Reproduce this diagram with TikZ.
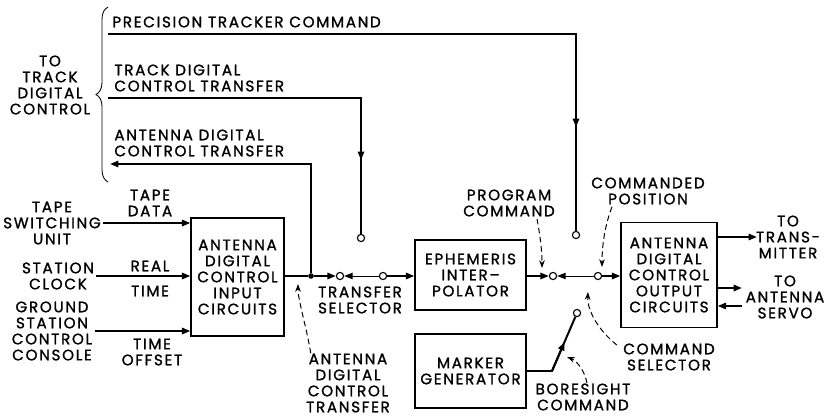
\documentclass[tikz,border=0pt]{standalone}
\usepackage{fontspec}
\setmainfont{Poppins}[LetterSpace=11, FakeBold=1.2]
\usetikzlibrary{arrows.meta, calc, decorations.pathreplacing}

\tikzset{
  txt/.style={align=center, inner sep=1.5pt, font=\fontsize{10.8}{11.4}\selectfont},
  blk/.style={txt, draw, line width=0.9pt},
  sig/.style={line width=1.4pt},
  arr/.style={sig, -{Triangle[length=6pt,width=4.5pt]}},
  blade/.style={line width=0.7pt, -{Triangle[length=6pt,width=4.5pt]}},
  ptr/.style={line width=0.7pt, dash pattern=on 4pt off 2.5pt, -{Stealth[length=5.5pt,width=4pt]}},
  contact/.style={circle, draw, line width=0.8pt, inner sep=0pt, minimum size=0.18cm},
  dot/.style={circle, fill, inner sep=0pt, minimum size=0.14cm}
}

\begin{document}
\begin{tikzpicture}[x=0.025cm, y=-0.025cm]
\useasboundingbox (0,0) rectangle (832,416);

\node[txt] (ttdc) at (50,85) {TO\\TRACK\\DIGITAL\\CONTROL};
\node[txt, anchor=west] (ptcl) at (110,22) {PRECISION TRACKER COMMAND};
\node[txt, anchor=west, align=left] (tdctl) at (112,78) {TRACK DIGITAL\\CONTROL TRANSFER};
\node[txt, anchor=west, align=left] (adctl) at (112,143) {ANTENNA DIGITAL\\CONTROL TRANSFER};
\draw[line width=0.6pt, decorate, decoration={brace, amplitude=0.3cm}] (108,182) -- (108,7);

\node[txt] (tsu) at (52,223) {TAPE\\SWITCHING\\UNIT};
\node[txt] (sc) at (58,276) {STATION\\CLOCK};
\node[txt] (gscc) at (52,331) {GROUND\\STATION\\CONTROL\\CONSOLE};
\node[txt] (tdl) at (150,203) {TAPE\\DATA};
\node[txt] (rl) at (150,266) {REAL};
\node[txt] (tl) at (150,291) {TIME};
\node[txt] (tol) at (152,352) {TIME\\OFFSET};

\node[blk, minimum width=2.325cm, minimum height=2.95cm] (input) at (237.5,277) {ANTENNA\\DIGITAL\\CONTROL\\INPUT\\CIRCUITS};
\node[blk, minimum width=2.775cm, minimum height=1.75cm] (eph) at (470.5,275) {EPHEMERIS\\INTER--\\POLATOR};
\node[blk, minimum width=2.775cm, minimum height=1.85cm] (mk) at (470.5,371) {MARKER\\GENERATOR};
\node[blk, minimum width=2.4cm, minimum height=2.625cm] (out) at (669,275) {ANTENNA\\DIGITAL\\CONTROL\\OUTPUT\\CIRCUITS};

\node[txt] (tsl) at (360,300) {TRANSFER\\SELECTOR};
\node[txt] (adct) at (348,383) {ANTENNA\\DIGITAL\\CONTROL\\TRANSFER};
\node[txt] (pcl) at (509,203) {PROGRAM\\COMMAND};
\node[txt] (cpl) at (648,191) {COMMANDED\\POSITION};
\node[txt] (csl) at (669,357) {COMMAND\\SELECTOR};
\node[txt] (bsl) at (583,397) {BORESIGHT\\COMMAND};
\node[txt] (txl) at (788,237) {TO\\TRANS-\\MITTER};
\node[txt] (svl) at (785,297) {TO\\ANTENNA\\SERVO};

\node[dot] (jn) at (311,276) {};
\node[contact] (c1) at (340,276) {};
\node[contact] (c2) at (383,276) {};
\node[contact] (c3) at (361,238) {};
\node[contact] (c4) at (553,276) {};
\node[contact] (c5) at (598,276) {};
\node[contact] (c6) at (576,235) {};
\node[contact] (c7) at (577,313) {};

\coordinate (ptcs) at (108,34);
\coordinate (tdcs) at (108,98);
\coordinate (adce) at (110,164);
\coordinate (bend) at (552,371);
\coordinate (tx) at (757,237);
\coordinate (sv1) at (742,288);
\coordinate (sv2) at (742,306);
\coordinate (adctp) at (298,284);
\coordinate (pcp) at (542,268);
\coordinate (cpp) at (602,267);
\coordinate (csp) at (588,292);
\coordinate (bsp) at (567,357);

\draw[arr] (tsu.east) -- (tsu.east -| input.west);
\draw[arr] (sc.east |- jn) -- (input.west |- jn);
\draw[arr] (gscc.east) -- (gscc.east -| input.west);

\draw[sig] (ptcs) -| (c6);
\draw[arr] (ptcs -| c6) -- ++(0,93);
\draw[sig] (tdcs) -| (c3);
\draw[arr] (tdcs -| c3) -- ++(0,62);
\draw[arr] (jn) |- (adce);

\draw[sig] (input.east |- jn) -- (jn);
\draw[arr] (jn) -- (c1);
\draw[blade] (c2) -- (c1);
\draw[arr] (c2) -- (eph.west |- c2);
\draw[arr] (eph.east |- c4) -- (c4);
\draw[blade] (c5) -- (c4);
\draw[arr] (c5) -- (out.west |- c5);

\draw[sig] (mk.east |- bend) -- (bend) -- (c7);
\draw[arr] (bend) -- ($(bend)!0.5!(c7)$);

\draw[arr] (tx -| out.east) -- (tx);
\draw[arr] (sv1 -| out.east) -- (sv1);
\draw[arr] (sv2) -- (sv2 -| out.east);

\draw[ptr] ($(adct.north west)+(7,2)$) .. controls (306,325) and (298,300) .. (adctp);
\draw[ptr] ($(pcl.south)+(28,0)$) .. controls (540,235) and (542,250) .. (pcp);
\draw[ptr] ($(cpl.south)+(-36,0)$) .. controls (605,225) and (602,245) .. (cpp);
\draw[ptr] ($(csl.west)+(-4,-12)$) .. controls (598,330) and (587,310) .. (csp);
\draw[ptr] ($(bsl.north)+(4,2)$) .. controls (584,368) and (575,360) .. (bsp);
\end{tikzpicture}
\end{document}
